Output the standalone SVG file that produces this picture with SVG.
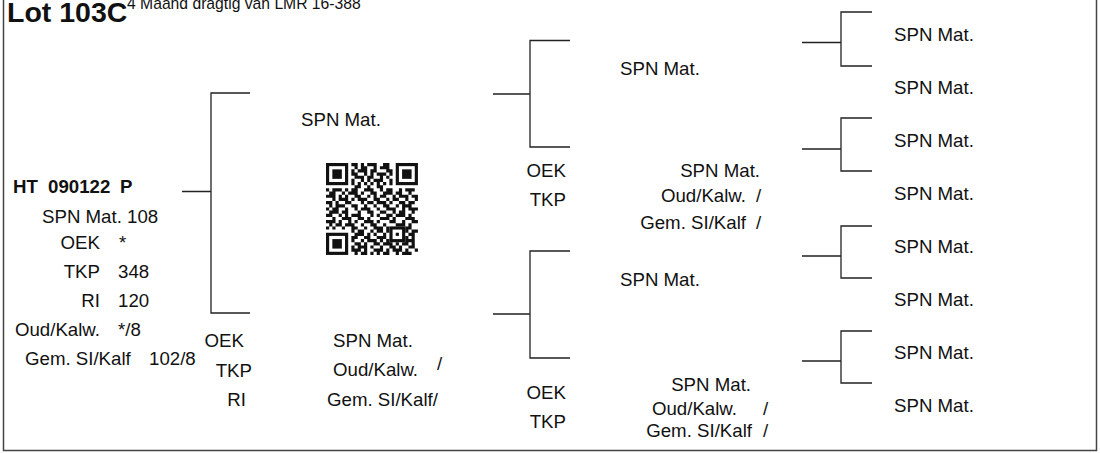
<svg xmlns="http://www.w3.org/2000/svg" width="1100" height="453" viewBox="0 0 1100 453">
<style>
text{font-family:"Liberation Sans",Arial,sans-serif;font-size:18.67px;fill:#111}
.b{font-weight:bold}
.e{text-anchor:end}
.small{font-size:15.7px}
.title{font-size:28.5px;font-weight:bold}
.ln{fill:none;stroke:#222;stroke-width:1.3}
.frame{fill:none;stroke:#444;stroke-width:1.5}
.qr{fill:none;stroke:#111;stroke-width:1}
.qf{fill:#111}
</style>
<rect class="frame" x="3.5" y="-10" width="1093" height="460.5"/>
<g id="header">
<text class="title" x="7" y="22">Lot 103C</text>
<text class="small" x="127" y="9">4 Maand dragtig van LMR 16-388</text>
</g>
<g id="connectors">
<path class="ln" d="M182 191.5H211M250 93H211V313H250"/>
<path class="ln" d="M493 94H530M570 40.5H530V147H570"/>
<path class="ln" d="M493 314H530M570 251H530V358H570"/>
<path class="ln" d="M802 42.5H841M872 12H841V66H872"/>
<path class="ln" d="M802 149H841M872 118H841V171H872"/>
<path class="ln" d="M802 256H841M872 226H841V278H872"/>
<path class="ln" d="M802 361H841M872 331H841V383H872"/>
</g>
<g id="animal">
<text class="b" x="13" y="192.5">HT</text>
<text class="b" x="48" y="192.5">090122</text>
<text class="b" x="120" y="192.5">P</text>
<text x="42" y="222.5">SPN Mat. 108</text>
<text class="e" x="100" y="248.5">OEK</text><text x="119" y="248.5">*</text>
<text class="e" x="100" y="278">TKP</text><text x="118" y="278">348</text>
<text class="e" x="100" y="307">RI</text><text x="118" y="307">120</text>
<text class="e" x="100" y="336">Oud/Kalw.</text><text x="118" y="336">*/8</text>
<text x="25" y="365">Gem. SI/Kalf</text><text x="149" y="365">102/8</text>
</g>
<g id="sire">
<text x="301" y="126">SPN Mat.</text>
</g>
<g id="qrcode" transform="translate(326,163) scale(3.17)">
<rect class="qr" x="0.5" y="0.5" width="6" height="6"/><rect class="qf" x="2" y="2" width="3" height="3"/>
<rect class="qr" x="22.5" y="0.5" width="6" height="6"/><rect class="qf" x="24" y="2" width="3" height="3"/>
<rect class="qr" x="0.5" y="22.5" width="6" height="6"/><rect class="qf" x="2" y="24" width="3" height="3"/>
<rect class="qr" x="20.5" y="20.5" width="4" height="4"/><rect class="qf" x="22" y="22" width="1" height="1"/>
<path class="qr" d="M8 .5h2M11 .5h1M13 .5h3M18 .5h2M9 1.5h1M11 1.5h2M15 1.5h1M17 1.5h3M8 2.5h1M10 2.5h3M14 2.5h2M19 2.5h2M8 3.5h2M12 3.5h1M14 3.5h1M16 3.5h3M20 3.5h1M9 4.5h3M13 4.5h2M17 4.5h1M19 4.5h1M8 5.5h1M11 5.5h1M13 5.5h1M15 5.5h3M20 5.5h1M8 6.5h1M10 6.5h1M12 6.5h1M14 6.5h1M16 6.5h1M18 6.5h1M20 6.5h1M9 7.5h2M13 7.5h1M16 7.5h2M0 8.5h1M2 8.5h3M6 8.5h1M8 8.5h2M12 8.5h3M17 8.5h1M19 8.5h2M23 8.5h1M25 8.5h3M1 9.5h2M5 9.5h1M7 9.5h3M11 9.5h1M14 9.5h2M18 9.5h3M22 9.5h2M26 9.5h1M0 10.5h3M4 10.5h1M6 10.5h1M9 10.5h2M13 10.5h1M15 10.5h1M17 10.5h2M21 10.5h1M23 10.5h3M27 10.5h2M2 11.5h1M4 11.5h3M8 11.5h1M10 11.5h3M15 11.5h2M19 11.5h1M21 11.5h2M25 11.5h1M28 11.5h1M0 12.5h2M3 12.5h1M6 12.5h2M11 12.5h1M13 12.5h2M16 12.5h3M20 12.5h1M23 12.5h2M26 12.5h2M1 13.5h1M3 13.5h3M8 13.5h2M12 13.5h1M15 13.5h1M18 13.5h2M22 13.5h1M24 13.5h3M0 14.5h1M2 14.5h2M6 14.5h1M9 14.5h1M11 14.5h3M16 14.5h1M19 14.5h3M24 14.5h1M26 14.5h3M1 15.5h3M5 15.5h2M10 15.5h1M13 15.5h2M17 15.5h2M21 15.5h1M23 15.5h2M27 15.5h1M0 16.5h2M4 16.5h1M6 16.5h1M8 16.5h3M14 16.5h1M16 16.5h1M19 16.5h2M22 16.5h3M26 16.5h1M2 17.5h1M5 17.5h3M10 17.5h2M13 17.5h1M17 17.5h3M21 17.5h1M25 17.5h3M0 18.5h3M4 18.5h1M7 18.5h1M9 18.5h1M12 18.5h3M16 18.5h1M20 18.5h2M24 18.5h1M27 18.5h2M1 19.5h1M3 19.5h2M6 19.5h3M11 19.5h1M14 19.5h2M18 19.5h1M22 19.5h3M26 19.5h1M0 20.5h1M2 20.5h1M5 20.5h1M8 20.5h2M12 20.5h1M15 20.5h3M19 20.5h1M25 20.5h2M8 21.5h1M10 21.5h2M14 21.5h1M16 21.5h2M19 21.5h1M25 21.5h1M27 21.5h2M9 22.5h3M13 22.5h1M15 22.5h1M18 22.5h1M26 22.5h2M8 23.5h2M12 23.5h2M16 23.5h3M25 23.5h1M27 23.5h1M8 24.5h1M11 24.5h1M13 24.5h3M17 24.5h1M19 24.5h1M25 24.5h3M9 25.5h2M12 25.5h1M15 25.5h2M18 25.5h3M22 25.5h1M24 25.5h2M27 25.5h1M8 26.5h1M10 26.5h3M14 26.5h1M17 26.5h1M20 26.5h2M23 26.5h1M26 26.5h2M8 27.5h3M12 27.5h1M15 27.5h3M19 27.5h1M21 27.5h3M25 27.5h1M28 27.5h1M9 28.5h1M11 28.5h2M14 28.5h1M16 28.5h1M18 28.5h2M22 28.5h1M24 28.5h3"/>
</g>
<g id="sire-info">
<text class="e" x="244" y="347">OEK</text>
<text class="e" x="252" y="377">TKP</text>
<text class="e" x="246" y="406">RI</text>
</g>
<g id="dam">
<text x="333" y="347">SPN Mat.</text>
<text x="333" y="376">Oud/Kalw.</text><text x="437" y="370">/</text>
<text x="327" y="406">Gem. SI/Kalf/</text>
</g>
<g id="gs1">
<text x="620" y="75">SPN Mat.</text>
</g>
<g id="gs1-info">
<text class="e" x="566" y="177">OEK</text>
<text class="e" x="566" y="206">TKP</text>
</g>
<g id="gd1">
<text class="e" x="760" y="177">SPN Mat.</text>
<text class="e" x="746" y="202">Oud/Kalw.</text><text x="756" y="202">/</text>
<text class="e" x="746" y="229">Gem. SI/Kalf</text><text x="756" y="229">/</text>
</g>
<g id="gs2">
<text x="620" y="286">SPN Mat.</text>
</g>
<g id="gs2-info">
<text class="e" x="566" y="399">OEK</text>
<text class="e" x="566" y="428">TKP</text>
</g>
<g id="gd2">
<text class="e" x="751" y="391">SPN Mat.</text>
<text class="e" x="737" y="415">Oud/Kalw.</text><text x="763" y="415">/</text>
<text class="e" x="752" y="437">Gem. SI/Kalf</text><text x="763" y="437">/</text>
</g>
<g id="ggp">
<text x="894" y="41">SPN Mat.</text>
<text x="894" y="94">SPN Mat.</text>
<text x="894" y="147">SPN Mat.</text>
<text x="894" y="200">SPN Mat.</text>
<text x="894" y="253">SPN Mat.</text>
<text x="894" y="306">SPN Mat.</text>
<text x="894" y="359">SPN Mat.</text>
<text x="894" y="412">SPN Mat.</text>
</g>
</svg>
